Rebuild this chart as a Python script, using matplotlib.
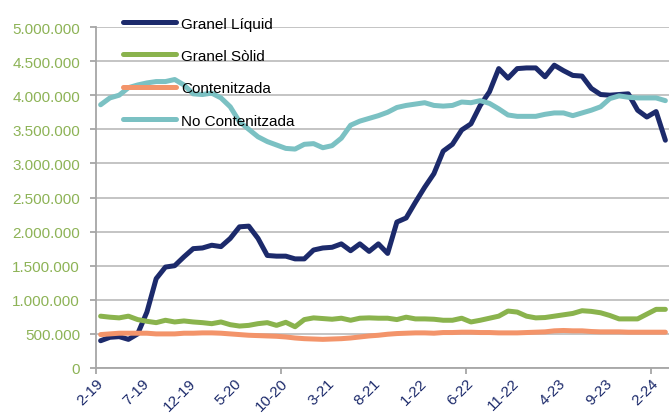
import matplotlib
matplotlib.use("Agg")
import matplotlib.pyplot as plt
from matplotlib.ticker import FuncFormatter, MultipleLocator, FixedLocator
import numpy as np

plt.rcParams["font.family"] = ["Liberation Sans", "DejaVu Sans"]

# Monthly categories, February 2019 to March 2024
months = [f"{m}-{y}" for y in range(19, 25) for m in range(1, 13)][1:63]
tick_labels = ["2-19", "7-19", "12-19", "5-20", "10-20", "3-21", "8-21",
               "1-22", "6-22", "11-22", "4-23", "9-23", "2-24"]

# Monthly traffic, thousands of tonnes
granel_liquid = [400, 450, 460, 420, 500, 820, 1310, 1480, 1500, 1630,
                 1750, 1760, 1800, 1780, 1900, 2070, 2080, 1900, 1650, 1640,
                 1640, 1600, 1600, 1730, 1760, 1770, 1820, 1720, 1820, 1710,
                 1820, 1680, 2140, 2200, 2430, 2650, 2850, 3180, 3280, 3490,
                 3580, 3850, 4050, 4390, 4250, 4390, 4400, 4400, 4270, 4440,
                 4360, 4290, 4280, 4100, 4010, 4000, 4010, 4020, 3780, 3680,
                 3760, 3340]
granel_solid = [760, 745, 735, 760, 710, 685, 665, 700, 675, 690,
                675, 665, 650, 675, 635, 615, 625, 650, 665, 625,
                670, 605, 710, 735, 725, 715, 730, 700, 730, 735,
                730, 730, 710, 745, 720, 720, 715, 700, 700, 730,
                675, 700, 730, 760, 835, 820, 760, 735, 740, 760,
                780, 800, 840, 830, 810, 770, 720, 720, 720, 790,
                860, 860]
contenitzada = [490, 500, 510, 510, 510, 510, 500, 500, 500, 510,
                510, 515, 515, 510, 500, 490, 480, 475, 470, 465,
                455, 440, 430, 425, 420, 425, 430, 440, 455, 470,
                480, 495, 505, 510, 515, 515, 510, 520, 520, 525,
                525, 520, 520, 515, 515, 515, 520, 525, 530, 545,
                550, 545, 545, 535, 530, 530, 530, 525, 525, 525,
                525, 525]
no_contenitzada = [3860, 3960, 4000, 4110, 4150, 4180, 4200, 4200, 4230, 4150,
                   4020, 4010, 4030, 3960, 3830, 3610, 3500, 3390, 3320, 3270,
                   3220, 3210, 3280, 3290, 3230, 3260, 3370, 3560, 3620, 3660,
                   3700, 3750, 3820, 3850, 3870, 3890, 3850, 3840, 3850, 3900,
                   3890, 3920, 3880, 3800, 3710, 3690, 3690, 3690, 3720, 3740,
                   3740, 3700, 3740, 3780, 3830, 3950, 3990, 3970, 3960, 3960,
                   3960, 3920]

series = [
    ("Granel Líquid", granel_liquid, "#1C2A6B"),
    ("Granel Sòlid", granel_solid, "#8AB34D"),
    ("Contenitzada", contenitzada, "#F3946A"),
    ("No Contenitzada", no_contenitzada, "#7BC1C3"),
]

W, H = 669, 414
fig = plt.figure(figsize=(W / 100, H / 100), dpi=100)
ax = fig.add_axes([96 / W, 45 / H, 574 / W, 341 / H])

x = np.arange(len(months))
for name, vals, color in series:
    ax.plot(x, np.array(vals) * 1000, color=color, lw=3.6, label=name,
            solid_capstyle="round", solid_joinstyle="round")

ax.set_xlim(-0.5, len(months) - 0.5)
ax.set_ylim(0, 5_000_000)

# Axes styling
axis_grey = "#A6A6A6"
ax.yaxis.grid(True, color="#BFBFBF", lw=1.3)
ax.set_axisbelow(True)
for side in ("top", "right"):
    ax.spines[side].set_visible(False)
for side in ("left", "bottom"):
    ax.spines[side].set_color(axis_grey)
    ax.spines[side].set_linewidth(1.3)

ax.yaxis.set_major_locator(MultipleLocator(500_000))
ax.yaxis.set_major_formatter(
    FuncFormatter(lambda v, _: f"{int(round(v)):,}".replace(",", ".")))
ax.tick_params(axis="y", length=4.5, width=1.3, color=axis_grey,
               labelcolor="#8DB356", labelsize=11, pad=7)

# Category labels every five months; tick marks every twenty
label_pos = [months.index(t) for t in tick_labels]
ax.set_xticks(label_pos)
ax.set_xticklabels(tick_labels, rotation=45, ha="right", va="center",
                   rotation_mode="anchor")
ax.tick_params(axis="x", which="major", length=0, labelcolor="#1C2A6B",
               labelsize=11, pad=9)
ax.xaxis.set_minor_locator(FixedLocator([-0.5, 19.5, 39.5, 59.5]))
ax.tick_params(axis="x", which="minor", length=4.5, width=1.3, color=axis_grey)

ax.legend(loc="upper left", bbox_to_anchor=(123 / W, 1 - 17.5 / H),
          bbox_transform=fig.transFigure, frameon=False, fontsize=11,
          handlelength=3.5, handletextpad=0.3, labelspacing=1.2,
          borderpad=0, borderaxespad=0)

fig.savefig("out.png", dpi=100)
